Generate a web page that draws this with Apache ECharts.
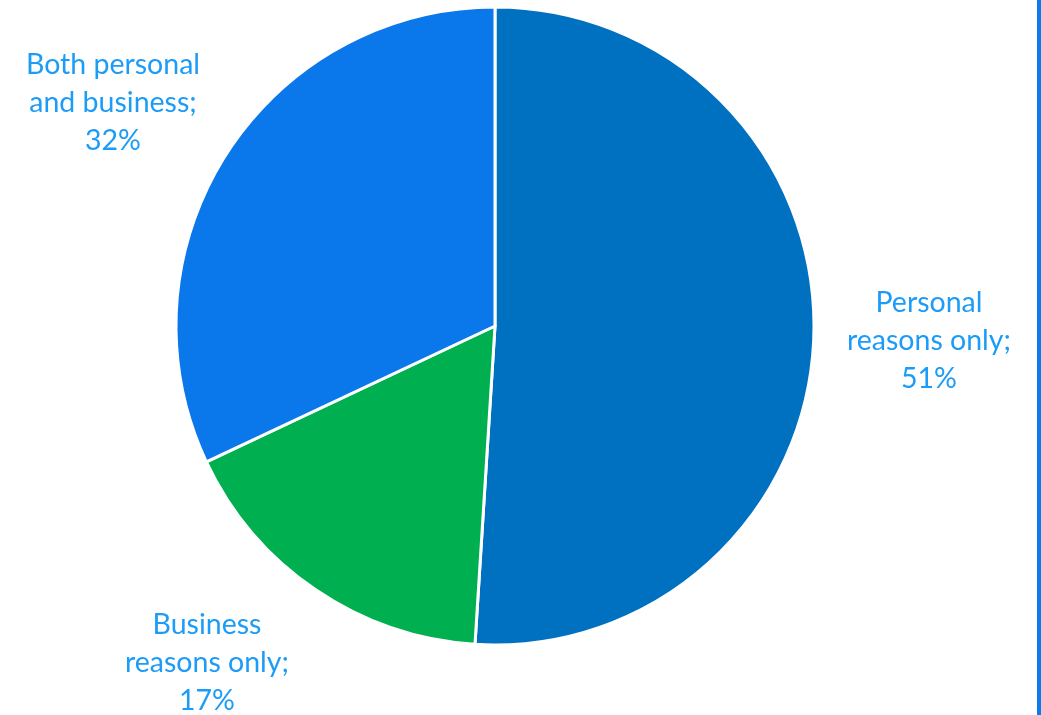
<!DOCTYPE html>
<html>
<head>
<meta charset="utf-8">
<script src="https://cdn.jsdelivr.net/npm/echarts@6/dist/echarts.min.js"></script>
<style>
  html, body { margin: 0; padding: 0; background: #fff; }
  #main { width: 1041px; height: 715px; }
</style>
</head>
<body>
<div id="main"></div>
<script>
// 数据
var categories = ["Personal\nreasons only", "Business\nreasons only", "Both personal\nand business"];
var shares = [51, 17, 32];
var sliceColors = ["#0070C0", "#00B050", "#0A78EB"];

// 标签中心位置（按扇区顺序）
var labelSpots = [[929, 341], [207, 663], [113, 103]];

var chart = echarts.init(document.getElementById("main"));
var option = {
  backgroundColor: "#ffffff",
  animation: false,
  graphic: [
    {
      type: "rect",
      shape: { x: 1037, y: 0, width: 4, height: 715 },
      style: { fill: "#0A7BEA" }
    }
  ],
  series: [
    {
      type: "pie",
      center: [495, 326],
      radius: 319,
      startAngle: 90,
      clockwise: true,
      itemStyle: { borderColor: "#ffffff", borderWidth: 3 },
      label: {
        show: true,
        position: "outside",
        color: "#1C9CF6",
        fontFamily: "Lato",
        fontSize: 28.5,
        lineHeight: 38,
        align: "center",
        width: 300,
        overflow: "none",
        formatter: function (p) {
          return p.name + ";\n" + p.value + "%";
        }
      },
      labelLine: { show: false },
      labelLayout: function (params) {
        var spot = labelSpots[params.dataIndex];
        return { x: spot[0], y: spot[1], align: "center", verticalAlign: "middle" };
      },
      data: categories.map(function (name, i) {
        return { name: name, value: shares[i], itemStyle: { color: sliceColors[i] } };
      })
    }
  ]
};
chart.setOption(option);
</script>
</body>
</html>
